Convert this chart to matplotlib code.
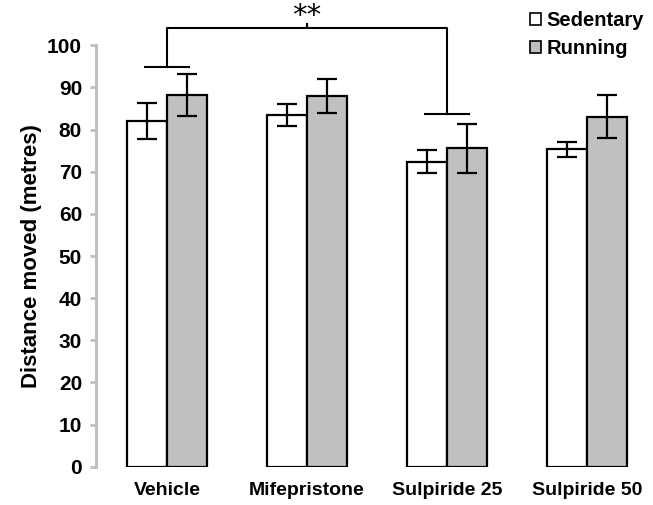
import matplotlib
matplotlib.use("Agg")
import matplotlib.pyplot as plt
import numpy as np
from matplotlib.patches import Patch

categories = ["Vehicle", "Mifepristone", "Sulpiride 25", "Sulpiride 50"]
sedentary = [82.0, 83.5, 72.4, 75.3]
sedentary_err = [4.2, 2.6, 2.8, 1.8]
running = [88.2, 87.9, 75.6, 83.1]
running_err = [5.0, 4.0, 5.8, 5.0]
y_ticks = [0, 10, 20, 30, 40, 50, 60, 70, 80, 90, 100]

plt.rcParams['font.family'] = ['Liberation Sans', 'DejaVu Sans']

fig = plt.figure(figsize=(6.53, 5.05), dpi=100)
ax = fig.add_axes([96/653, 38.3/505, (653-96)/653, 421.4/505])

x = np.arange(len(categories))
w = 0.285
ax.bar(x - w/2, sedentary, w, color='white', edgecolor='black', linewidth=1.6,
       yerr=sedentary_err, error_kw=dict(ecolor='black', elinewidth=1.6, capsize=7, capthick=1.6),
       label='Sedentary', zorder=2)
ax.bar(x + w/2, running, w, color='#c0c0c0', edgecolor='black', linewidth=1.6,
       yerr=running_err, error_kw=dict(ecolor='black', elinewidth=1.6, capsize=7, capthick=1.6),
       label='Running', zorder=2)

ax.set_xlim(-0.507, 3.471)
ax.set_ylim(0, 100)
ax.set_yticks(y_ticks)
ax.set_yticklabels([str(t) for t in y_ticks], fontsize=15, fontweight='bold')
ax.set_xticks(x)
ax.set_xticklabels(categories, fontsize=14, fontweight='bold')
ax.tick_params(axis='x', length=0, pad=11)
ax.tick_params(axis='y', length=4, width=2, color='#bfbfbf', pad=6)
for s in ['top', 'right', 'bottom']:
    ax.spines[s].set_visible(False)
ax.spines['left'].set_color('#bfbfbf')
ax.spines['left'].set_linewidth(2.2)
ax.set_ylabel("Distance moved (metres)", fontsize=16, fontweight='bold', labelpad=4)

# significance bracket
lw = 1.5
hw = 0.16
y_left, y_right, y_top = 94.8, 83.6, 104.2
ax.plot([0 - hw, 0 + hw], [y_left, y_left], color='black', lw=lw, clip_on=False)
ax.plot([2 - hw, 2 + hw], [y_right, y_right], color='black', lw=lw, clip_on=False)
ax.plot([0, 0, 2, 2], [y_left, y_top, y_top, y_right], color='black', lw=lw, clip_on=False)
ax.plot([1, 1], [y_top, y_top + 0.8], color='black', lw=lw, clip_on=False)
ax.text(1, y_top - 0.6, "**", ha='center', va='bottom', fontsize=21,
        family='DejaVu Sans', clip_on=False)

handles = [Patch(facecolor='white', edgecolor='black', linewidth=1.2, label='Sedentary'),
           Patch(facecolor='#c0c0c0', edgecolor='black', linewidth=1.2, label='Running')]
leg = fig.legend(handles=handles, loc='upper left', bbox_to_anchor=(519/653, 1.0),
                 frameon=False, handlelength=0.55, handleheight=0.55,
                 handletextpad=0.25, labelspacing=0.45, borderaxespad=0.15,
                 prop=dict(weight='bold', size=14.5))

fig.savefig("out.png", dpi=100)
